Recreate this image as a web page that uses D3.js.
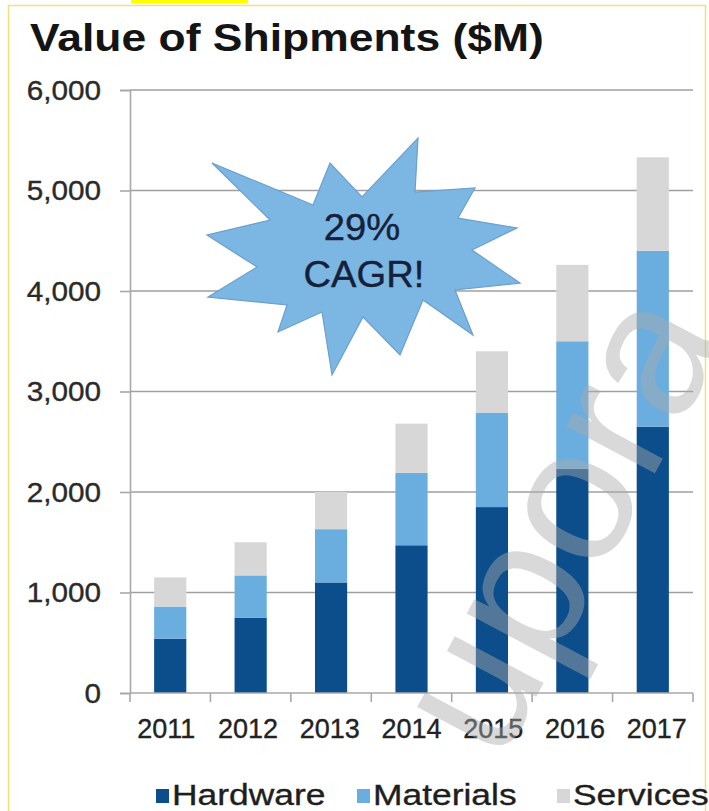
<!DOCTYPE html>
<html>
<head>
<meta charset="utf-8">
<script src="https://cdn.jsdelivr.net/npm/d3@7"></script>
<style>
  html, body { margin: 0; padding: 0; background: #ffffff; }
  svg { display: block; }
</style>
</head>
<body>
<script>
// Value of shipments by year, split by revenue type ($M)
const years = ["2011", "2012", "2013", "2014", "2015", "2016", "2017"];
const hardware  = [540, 750, 1100, 1470, 1850, 2230, 2650];
const materials = [320, 420, 530, 720, 940, 1270, 1750];
const services  = [290, 330, 370, 490, 610, 760, 930];
const seriesNames = ["Hardware", "Materials", "Services"];
const yTicks = [0, 1000, 2000, 3000, 4000, 5000, 6000];
const calloutLines = ["29%", "CAGR!"];

const W = 709, H = 811;
const colors = { Hardware: "#0b4e8b", Materials: "#6aaddf", Services: "#d7d7d7" };
const FONT = "'Liberation Sans', Arial, sans-serif";

const svg = d3.select("body").append("svg")
  .attr("width", W).attr("height", H);

// widen text horizontally by factor k
function stretch(sel, k) {
  sel.each(function () {
    const len = this.getComputedTextLength();
    d3.select(this).attr("textLength", len * k).attr("lengthAdjust", "spacingAndGlyphs");
  });
}

// page frame and highlight strip
svg.append("rect").attr("x", 131).attr("y", 0).attr("width", 117).attr("height", 3.5)
  .attr("fill", "#ffff00");
svg.append("rect").attr("x", 8.5).attr("y", 5.5).attr("width", 697).attr("height", 830)
  .attr("fill", "none").attr("stroke", "#f3df7c").attr("stroke-width", 1.5);

// title
svg.append("text").attr("x", 30).attr("y", 51)
  .attr("font-family", FONT).attr("font-weight", "bold").attr("font-size", 39)
  .attr("fill", "#141414").text("Value of Shipments ($M)")
  .call(stretch, 1.14);

const plot = { left: 130, right: 693, top: 90, bottom: 693 };

const x = d3.scaleBand().domain(years)
  .range([plot.left, plot.right]).paddingInner(0.6).paddingOuter(0.3);
const xCat = d3.scaleBand().domain(years).range([plot.left, plot.right]);
const y = d3.scaleLinear().domain([0, 6000]).range([plot.bottom, plot.top]);

// gridlines
svg.append("g").selectAll("line").data(yTicks.filter(d => d > 0)).join("line")
  .attr("x1", plot.left).attr("x2", plot.right)
  .attr("y1", d => y(d)).attr("y2", d => y(d))
  .attr("stroke", "#9f9f9f").attr("stroke-width", 1.6);

// y axis
const yAxis = svg.append("g").attr("transform", `translate(${plot.left},0)`)
  .call(d3.axisLeft(y).tickValues(yTicks).tickFormat(d3.format(",")).tickSize(10).tickPadding(19));
yAxis.select(".domain").attr("stroke", "#a8a8a8").attr("stroke-width", 1.6);
yAxis.selectAll(".tick line").attr("stroke", "#a8a8a8").attr("stroke-width", 1.6);
yAxis.selectAll("text").attr("font-family", FONT).attr("font-size", 27)
  .attr("fill", "#2a2a2a").attr("stroke", "#2a2a2a").attr("stroke-width", 0.35)
  .attr("dy", "0.34em")
  .call(stretch, 1.1);

// stacked bars
const rows = years.map((yr, i) => ({
  year: yr, Hardware: hardware[i], Materials: materials[i], Services: services[i]
}));
const stacked = d3.stack().keys(seriesNames)(rows);

svg.append("g").selectAll("g").data(stacked).join("g")
  .attr("fill", d => colors[d.key])
  .selectAll("rect").data(d => d).join("rect")
  .attr("x", d => x(d.data.year))
  .attr("width", x.bandwidth())
  .attr("y", d => y(d[1]))
  .attr("height", d => y(d[0]) - y(d[1]));

// x axis with category boundary ticks
const xg = svg.append("g");
xg.append("line").attr("x1", plot.left).attr("x2", plot.right)
  .attr("y1", plot.bottom).attr("y2", plot.bottom)
  .attr("stroke", "#a8a8a8").attr("stroke-width", 1.6);
const bounds = years.map(d => xCat(d)).concat([plot.right]);
xg.selectAll("line.tk").data(bounds).join("line").attr("class", "tk")
  .attr("x1", d => d).attr("x2", d => d)
  .attr("y1", plot.bottom).attr("y2", plot.bottom + 9)
  .attr("stroke", "#a8a8a8").attr("stroke-width", 1.6);
xg.selectAll("text").data(years).join("text")
  .attr("x", (d, i) => xCat(d) + xCat.bandwidth() / 2 + (i - 3) * 1.3)
  .attr("y", 738)
  .attr("text-anchor", "middle")
  .attr("font-family", FONT).attr("font-size", 27)
  .attr("fill", "#222").attr("stroke", "#222").attr("stroke-width", 0.35)
  .text(d => d);

// starburst callout
const burst = [
  [212, 163], [313, 205], [330, 163], [362, 197], [418, 138], [415, 192],
  [475, 188], [458, 218], [517, 228], [472, 250], [520, 283], [455, 290],
  [473, 335], [423, 300], [400, 355], [363, 317], [332, 375], [322, 312],
  [278, 332], [287, 305], [208, 297], [257, 267], [207, 235], [270, 220]
];
svg.append("path")
  .attr("d", d3.line()(burst) + "Z")
  .attr("fill", "#7cb6e3").attr("stroke", "#6b9fcc").attr("stroke-width", 1.2)
  .attr("stroke-linejoin", "miter");
svg.append("g").selectAll("text").data(calloutLines).join("text")
  .attr("x", (d, i) => i === 0 ? 362 : 364)
  .attr("y", (d, i) => 240 + i * 47)
  .attr("text-anchor", "middle")
  .attr("font-family", FONT).attr("font-size", 36)
  .attr("fill", "#15213a").attr("stroke", "#15213a").attr("stroke-width", 0.4)
  .text(d => d)
  .call(stretch, 1.06);

// legend
const legendX = [156, 357, 557];
const lg = svg.append("g").selectAll("g").data(seriesNames).join("g")
  .attr("transform", (d, i) => `translate(${legendX[i]},0)`);
lg.append("rect").attr("x", 0).attr("y", 789).attr("width", 13).attr("height", 14)
  .attr("fill", d => colors[d]);
lg.append("text").attr("x", 16).attr("y", 805)
  .attr("font-family", FONT).attr("font-size", 30)
  .attr("fill", "#1e1e1e").attr("stroke", "#1e1e1e").attr("stroke-width", 0.35)
  .text(d => d)
  .call(stretch, 1.18);

// watermark
svg.append("text")
  .attr("transform", "translate(500,765) rotate(-62)")
  .attr("font-family", FONT).attr("font-size", 190)
  .attr("fill", "#aaaaaa").attr("fill-opacity", 0.45)
  .text("upora");
</script>
</body>
</html>
